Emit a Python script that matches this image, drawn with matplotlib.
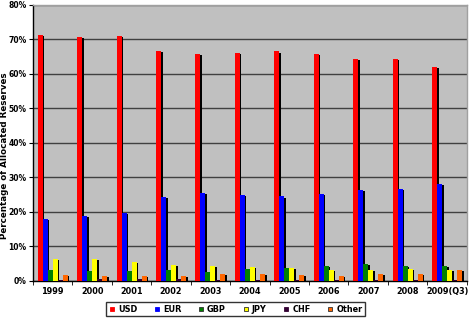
import numpy as np
import matplotlib
matplotlib.use("Agg")
import matplotlib.pyplot as plt
from matplotlib.lines import Line2D

plt.rcParams['font.family'] = ['DejaVu Sans']
plt.rcParams['font.weight'] = 'bold'

years = ['1999', '2000', '2001', '2002', '2003', '2004', '2005',
         '2006', '2007', '2008', '2009(Q3)']
usd = [71.2, 70.8, 71.0, 66.7, 65.8, 66.1, 66.5, 65.9, 64.4, 64.4, 62.0]
eur = [17.8, 18.8, 19.7, 24.2, 25.3, 24.9, 24.4, 25.2, 26.3, 26.5, 27.9]
gbp = [3.0, 2.8, 2.8, 3.0, 2.5, 3.3, 3.5, 4.1, 4.7, 4.1, 4.2]
jpy = [6.3, 6.2, 5.3, 4.5, 4.1, 3.8, 3.6, 3.1, 3.0, 3.3, 3.1]
chf = [0.2, 0.3, 0.3, 0.4, 0.2, 0.2, 0.1, 0.2, 0.2, 0.1, 0.1]
other = [1.6, 1.3, 1.2, 1.4, 1.8, 1.8, 1.7, 1.4, 1.8, 2.0, 3.0]

series = [('USD', usd, '#FF0000'), ('EUR', eur, '#0000FF'),
          ('GBP', gbp, '#008000'), ('JPY', jpy, '#FFFF00'),
          ('CHF', chf, '#330033'), ('Other', other, '#FF6600')]
marker_edges = ['#FF0000', '#0000FF', '#303030', '#303030', '#330033', '#303030']

fs = 5.9

fig = plt.figure(figsize=(4.7, 3.2), dpi=100)
ax = fig.add_axes([0.0702, 0.1234, 0.923, 0.861])
ax.set_facecolor('#C0C0C0')

x = np.arange(len(years))
w = 0.127
n = len(series)
for i, (name, vals, col) in enumerate(series):
    pos = x + (i - (n - 1) / 2) * w
    # shadow behind each bar
    ax.bar(pos + 0.04, np.maximum(np.array(vals) - 0.3, 0), w, color='black',
           zorder=2, linewidth=0)
    ax.bar(pos, vals, w, color=col, zorder=3, linewidth=0)

ax.set_xlim(-0.5, len(years) - 0.5)
ax.set_ylim(0, 80)
ax.set_yticks(np.arange(0, 81, 10))
ax.set_yticklabels([f'{v}%' for v in range(0, 81, 10)], fontsize=5.5, fontweight='bold')
ax.yaxis.grid(True, color='#404040', linewidth=1, zorder=1)
ax.set_axisbelow(True)

ax.set_xticks(x)
ax.set_xticklabels(years, fontsize=fs, fontweight='bold')
ax.set_xticks(np.arange(-0.5, len(years), 1), minor=True)
ax.tick_params(axis='x', which='major', length=0, pad=4.5)
ax.tick_params(axis='x', which='minor', length=3, color='black')
ax.tick_params(axis='y', length=3, pad=1.5)

for s in ['left', 'bottom']:
    ax.spines[s].set_color('black')
    ax.spines[s].set_linewidth(1)
for s in ['top', 'right']:
    ax.spines[s].set_color('#A0A0A0')
    ax.spines[s].set_linewidth(1)

fig.text(4.3 / 470, 0.513, 'Percentage of Allocated Reserves', rotation=90,
         ha='center', va='center', fontsize=6.3, fontweight='bold')

handles = [Line2D([], [], marker='s', linestyle='', markersize=3.4,
                  markerfacecolor=c, markeredgecolor=e, markeredgewidth=0.6)
           for (_, _, c), e in zip(series, marker_edges)]
leg = fig.legend(handles, [s[0] for s in series], loc='center',
                 bbox_to_anchor=(0.501, 0.034), ncol=6, frameon=True,
                 fontsize=fs, handlelength=0.8, handletextpad=0.35,
                 columnspacing=2.0, borderpad=0.3, borderaxespad=0,
                 fancybox=False)
leg.get_frame().set_edgecolor('black')
leg.get_frame().set_linewidth(1)
for t in leg.get_texts():
    t.set_fontweight('bold')

fig.savefig('out.png', dpi=100)
